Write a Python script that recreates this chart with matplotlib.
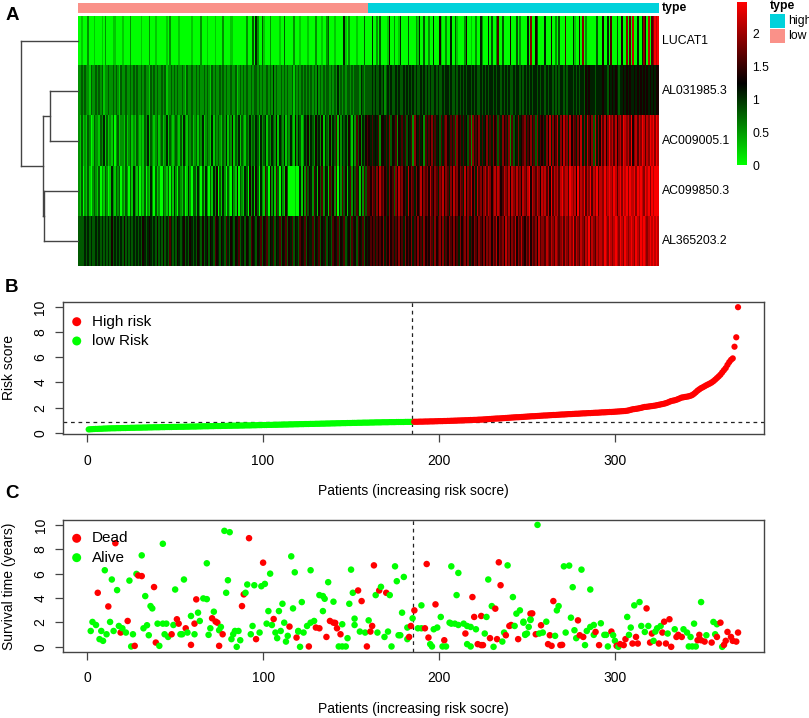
import numpy as np
import matplotlib
matplotlib.use('Agg')
import matplotlib.pyplot as plt
from matplotlib.colors import LinearSegmentedColormap, ListedColormap
from matplotlib.patches import Rectangle

plt.rcParams['font.family'] = ['Liberation Sans', 'DejaVu Sans']

# ---------------- data ----------------
n_patients = 370
n_low = 185
genes = ['LUCAT1', 'AL031985.3', 'AC009005.1', 'AC099850.3', 'AL365203.2']
type_labels = ['high', 'low']
type_colors = {'high': '#00D2DB', 'low': '#FA9189'}
colorbar_ticks = [0, 0.5, 1, 1.5, 2]
heat_max = 2.47
heat_step = 0.27  # expression level per digit in the rows below

row_lucat1 = ("0010002000100001020000110000100002000"
              "0001000020001000000102000001000000010"
              "0000200010000100002000011000000002000"
              "3042003100020000010030000020001000010"
              "0002000100230001000004102000010000300"
              "0040020300001500200140000300002140030"
              "0200400051002004003100002500100200420"
              "0040300260030000500030200004070053000"
              "0400050020300060000410050702000000300"
              "0500406000300500706080040047508067989")
row_al031985 = ("2232322132232323122322323213223223232"
                "3223232213232322323122323232232132232"
                "2323223232132322323232232231232323223"
                "2332323223232423223232322313232323232"
                "3232423232332323242323233232333243233"
                "3343433434234343343433434343434334343"
                "4343343433434434334343434344343433434"
                "3434434344343434334344343434343443434"
                "4343443434344343444343434435454443444"
                "4544354545434454545445454545454545455")
row_ac009005 = ("2131213201322132413121302312213123121"
                "3212132413212312312413212321314213231"
                "2313241232141323213241325132413213242"
                "3243142341324325143241324215243124352"
                "4325342514325243615243425314263524356"
                "5464546255464735462546463546275464526"
                "4657464536467546463756464536274657464"
                "5746475636475647263547456746574637465"
                "6475847568475867485764758474865738475"
                "8685797868578698786957868798687989798")
row_ac099850 = ("2130213102321302132014213230213203142"
                "1302130214203120032130314203213014203"
                "3142031420314250314203104215032143052"
                "4153042163052416304215300001004152635"
                "4264153625416352604263514625364152636"
                "6576475867564756375867564857647568576"
                "7586576476857647586757648576857486757"
                "8687578687568768587686758768958768758"
                "7868596878689788698785968796879687968"
                "8797898798689798979889798987989798999")
row_al365203 = ("3333434343343434343435343434353434343"
                "4343543454343534353436434354345343543"
                "4354353453543654354364354354634535436"
                "5435463546354635463546354635436546354"
                "4635463546354365463546345364536546354"
                "5656465657465756465756475657465756475"
                "6576475675746576575647567574657657657"
                "5767576857675867576857686576857675867"
                "7687687687678687687968768768796876878"
                "8798798789879879878987987989878989898")

# dendrogram merges: (child a, child b, height); leaves 0..4, new nodes 5..8
dend_merges = [(1, 2, 28.7), (3, 4, 34.7), (5, 6, 35.3), (0, 7, 57.3)]

risk_low = [0.26, 0.27, 0.28, 0.29, 0.30, 0.30, 0.31, 0.31, 0.32, 0.33,
            0.33, 0.34, 0.34, 0.35, 0.35, 0.35, 0.36, 0.36, 0.36, 0.37,
            0.37, 0.37, 0.38, 0.38, 0.39, 0.39, 0.39, 0.40, 0.40, 0.40,
            0.40, 0.41, 0.41, 0.41, 0.42, 0.42, 0.42, 0.43, 0.43, 0.43,
            0.43, 0.44, 0.44, 0.44, 0.45, 0.45, 0.45, 0.45, 0.46, 0.46,
            0.46, 0.47, 0.47, 0.47, 0.47, 0.48, 0.48, 0.48, 0.49, 0.49,
            0.49, 0.49, 0.50, 0.50, 0.50, 0.51, 0.51, 0.51, 0.51, 0.52,
            0.52, 0.52, 0.53, 0.53, 0.53, 0.53, 0.54, 0.54, 0.54, 0.55,
            0.55, 0.55, 0.56, 0.56, 0.56, 0.56, 0.57, 0.57, 0.57, 0.58,
            0.58, 0.58, 0.58, 0.59, 0.59, 0.59, 0.60, 0.60, 0.60, 0.61,
            0.61, 0.61, 0.62, 0.62, 0.62, 0.63, 0.63, 0.63, 0.64, 0.64,
            0.64, 0.65, 0.65, 0.65, 0.66, 0.66, 0.66, 0.67, 0.67, 0.67,
            0.68, 0.68, 0.68, 0.69, 0.69, 0.69, 0.70, 0.70, 0.70, 0.71,
            0.71, 0.71, 0.72, 0.72, 0.72, 0.73, 0.73, 0.73, 0.74, 0.74,
            0.74, 0.75, 0.75, 0.75, 0.76, 0.76, 0.76, 0.77, 0.77, 0.77,
            0.78, 0.78, 0.78, 0.79, 0.79, 0.79, 0.80, 0.80, 0.80, 0.80,
            0.81, 0.81, 0.81, 0.82, 0.82, 0.82, 0.82, 0.83, 0.83, 0.83,
            0.83, 0.84, 0.84, 0.84, 0.84, 0.85, 0.85, 0.85, 0.85, 0.85,
            0.86, 0.86, 0.86, 0.86, 0.86]
risk_high = [0.87, 0.87, 0.87, 0.88, 0.88, 0.88, 0.89, 0.89, 0.89, 0.90,
             0.90, 0.90, 0.91, 0.91, 0.92, 0.92, 0.92, 0.93, 0.93, 0.94,
             0.94, 0.95, 0.95, 0.96, 0.96, 0.97, 0.97, 0.98, 0.98, 0.99,
             0.99, 1.00, 1.01, 1.01, 1.02, 1.02, 1.03, 1.04, 1.04, 1.05,
             1.06, 1.07, 1.08, 1.09, 1.10, 1.11, 1.12, 1.13, 1.13, 1.14,
             1.15, 1.16, 1.17, 1.18, 1.19, 1.20, 1.21, 1.22, 1.23, 1.23,
             1.24, 1.25, 1.26, 1.27, 1.28, 1.29, 1.30, 1.31, 1.31, 1.32,
             1.33, 1.34, 1.35, 1.36, 1.37, 1.37, 1.38, 1.39, 1.40, 1.41,
             1.41, 1.42, 1.43, 1.44, 1.45, 1.45, 1.46, 1.47, 1.48, 1.48,
             1.49, 1.50, 1.51, 1.51, 1.52, 1.53, 1.54, 1.54, 1.55, 1.56,
             1.56, 1.57, 1.58, 1.59, 1.59, 1.60, 1.61, 1.62, 1.62, 1.63,
             1.64, 1.65, 1.65, 1.66, 1.67, 1.68, 1.69, 1.70, 1.71, 1.72,
             1.73, 1.75, 1.78, 1.82, 1.86, 1.88, 1.90, 1.92, 1.95, 1.98,
             2.02, 2.05, 2.06, 2.08, 2.10, 2.12, 2.14, 2.16, 2.19, 2.22,
             2.25, 2.28, 2.31, 2.35, 2.40, 2.46, 2.52, 2.55, 2.58, 2.62,
             2.68, 2.74, 2.80, 2.82, 2.85, 2.87, 2.90, 2.94, 3.00, 3.10,
             3.22, 3.35, 3.45, 3.55, 3.62, 3.70, 3.78, 3.85, 3.92, 4.00,
             4.10, 4.22, 4.35, 4.48, 4.62, 4.80, 4.98, 5.15, 5.40, 5.62,
             5.80, 5.92, 6.85, 7.60, 10.00]

dead_patient = [6, 12, 16, 19, 23, 27, 29, 31, 38, 39, 48, 51, 52, 56, 59, 61, 62,
                71, 73, 74, 75, 77, 88, 89, 92, 96, 100, 106, 115, 119,
                126, 130, 132, 136, 138, 140, 141, 142, 144, 154, 156, 159, 161,
                162, 163, 166, 170, 183, 184, 186, 192, 193, 194, 198, 203, 215,
                219, 220, 222, 224, 224, 225, 229, 232, 233, 234, 235, 238, 240,
                241, 245, 252, 253, 255, 258, 262, 263, 264, 265, 269, 270, 279,
                280, 282, 289, 291, 298, 301, 303, 305, 306, 310, 312, 313, 318,
                320, 321, 325, 327, 328, 329, 331, 332, 335, 336, 338, 347, 348,
                349, 351, 355, 358, 360, 362, 363, 364, 366, 367, 369, 370]
dead_time = [4.43, 3.31, 8.5, 1.17, 2.12, 0.08, 5.85, 5.8, 4.9, 0.35, 1.03, 2.26, 1.9,
             1.52, 0.16, 1.9, 3.89, 2.34, 2.07, 1.98, 0.08, 1.03, 3.34, 4.3, 8.91,
             0.63, 6.9, 2.28, 1.66, 0.76,
             0.03, 1.58, 1.52, 0.81, 2.12, 1.98, 1.96, 1.52, 1.03, 4.62, 3.75, 0.03,
             1.25, 1.71, 6.68, 4.62, 4.43, 0.81, 1.71, 2.99, 1.52, 6.79, 0.76, 3.48,
             0.54, 1.09, 4.08, 2.45, 0.22, 0.14, 2.53, 0.14, 0.71, 3.13, 0.63, 6.93,
             5.05, 0.95, 1.71, 1.79, 0.63, 2.72, 2.74, 1.03, 1.77, 0.22, 0.95, 0.08,
             3.75, 0.14, 0.16, 2.17, 0.95, 0.81, 1.22, 0.14, 1.25, 0.08, 0.22, 0.14,
             0.63, 0.27, 0.81, 0.27, 3.15, 0.35, 1.09, 0.27, 1.17, 2.06, 0.27, 2.26,
             0.0, 0.81, 0.98, 0.81, 0.54, 0.98, 0.54, 0.43, 0.35, 0.81, 1.98, 0.16,
             0.49, 1.22, 0.81, 0.49, 0.43, 1.17]
alive_patient = [10, 14, 17, 24, 28, 31, 33, 36, 37, 43, 50, 55, 66, 68, 68, 78, 81,
                 79, 80, 90, 91, 95, 99, 101, 104, 116, 118, 122, 117, 111, 109, 103,
                 102, 105, 112, 110, 107, 108, 113, 114, 120, 121, 98, 94, 93, 84, 86,
                 83, 82, 87, 85, 76, 75, 72, 70, 69, 64, 63, 59, 61, 57, 54, 53, 49,
                 45, 43, 40, 44, 46, 41, 35, 34, 32, 25, 26, 22, 20, 18, 15, 13, 11,
                 9, 7, 8, 5, 3, 2,
                 127, 120, 123, 125, 127, 129, 132, 134, 135, 134, 137, 140, 145, 148,
                 143, 145, 147, 150, 149, 151, 152, 152, 155, 158, 160, 164, 167, 172,
                 165, 169, 171, 173, 175, 176, 180, 179, 177, 178, 182, 182, 185, 188,
                 190, 190, 195, 196, 197, 199, 201, 202, 204, 206, 207, 207, 211, 210,
                 209, 211, 214, 216, 218, 216, 218, 221, 227, 226, 228, 231, 230, 236,
                 237, 239, 242, 243, 244, 246, 248, 249, 251, 252,
                 256, 271, 274, 281, 276, 286, 268, 267, 248, 252, 261, 250, 249, 257,
                 259, 266, 272, 275, 277, 278, 283, 284, 286, 288, 288, 292, 294, 295,
                 296, 299, 300, 302, 307, 309, 308, 311, 314, 315, 317, 319, 322, 323,
                 324, 326, 330, 334, 339, 341, 343, 342, 344, 346, 345, 349, 352, 356,
                 358, 357, 361]
alive_time = [6.28, 5.52, 4.65, 5.43, 5.98, 7.5, 4.16, 3.34, 3.15, 8.45, 4.7, 5.52,
              3.97, 3.91, 6.85, 9.51, 9.4, 4.43, 5.46, 4.43, 5.11, 5.05, 4.97, 5.16,
              6.0, 7.42, 6.11, 3.67, 3.15, 3.53, 2.93, 2.93, 1.9, 1.79, 1.98, 1.3,
              1.17, 0.71, 0.43, 0.9, 1.25, 0.0, 1.17, 1.71, 1.03, 1.3, 1.3, 1.03,
              0.63, 0.54, 0.0, 1.63, 1.36, 2.88, 1.52, 0.98, 2.12, 2.8, 2.53, 1.03,
              1.17, 1.03, 1.03, 1.79, 1.9, 1.9, 1.9, 1.03, 0.81, 0.08, 0.95, 1.77,
              1.52, 0.03, 1.03, 1.17, 1.52, 1.71, 1.3, 2.04, 1.03, 0.49, 0.63, 1.3,
              1.79, 2.04, 1.3,
              6.28, 1.3, 1.17, 1.71, 1.98, 2.12, 4.24, 4.16, 3.94, 2.93, 5.3, 3.7,
              1.85, 0.71, 0.03, 0.03, 0.03, 6.33, 3.53, 4.43, 2.31, 1.79, 1.25, 1.17,
              2.17, 4.24, 4.92, 4.24, 1.17, 0.81, 1.25, 0.03, 6.6, 5.38, 5.73, 2.8,
              0.95, 0.95, 0.63, 1.58, 2.34, 1.52, 1.52, 3.4, 0.22, 0.03, 1.44, 1.58,
              2.45, 0.03, 0.03, 1.98, 1.9, 6.6, 6.06, 4.24, 1.9, 1.79, 1.9, 1.71,
              1.63, 0.22, 0.03, 1.44, 2.45, 1.09, 5.52, 0.0, 3.34, 0.43, 1.17, 6.68,
              4.08, 1.71, 2.72, 2.99, 1.98, 0.98, 1.63, 2.26,
              10.0, 6.6, 6.66, 6.33, 4.89, 4.7, 3.34, 2.99, 2.06, 2.2, 2.06, 1.09,
              1.03, 1.09, 1.17, 0.9, 1.17, 2.39, 1.36, 0.71, 0.14, 1.3, 1.63, 1.79,
              0.98, 1.93, 0.98, 0.98, 0.03, 0.95, 0.49, 0.0, 2.45, 1.58, 0.98, 3.4,
              3.67, 1.71, 1.22, 1.71, 0.49, 1.25, 1.52, 1.71, 1.09, 1.44, 1.44, 1.17,
              0.81, 0.03, 0.03, 0.03, 1.9, 3.67, 0.95, 2.04, 1.85, 1.03, 0.0]

# ---------------- figure ----------------
W, H = 809, 718
fig = plt.figure(figsize=(W / 100, H / 100), dpi=100)


def ax_px(x0, y0, x1, y1):
    return fig.add_axes([x0 / W, 1 - y1 / H, (x1 - x0) / W, (y1 - y0) / H])


RED = '#FF0000'
GREEN = '#00FF00'
FS = 10

# ---- Panel A: heatmap ----
rows = [row_lucat1, row_al031985, row_ac009005, row_ac099850, row_al365203]
rows = [r[:n_patients].ljust(n_patients, r[-1]) for r in rows]
mat = np.array([[int(c) * heat_step for c in r] for r in rows])
cmap = LinearSegmentedColormap.from_list('gbr', [GREEN, '#000000', RED], N=256)

axh = ax_px(78, 16, 659, 266)
axh.imshow(mat, aspect='auto', cmap=cmap, vmin=0, vmax=heat_max,
           interpolation='nearest')
axh.set_axis_off()
for i, g in enumerate(genes):
    axh.text(1.005, 1 - (i + 0.5) / len(genes), g, transform=axh.transAxes,
             va='center', ha='left', fontsize=8.8)

# annotation bar
types = ['low'] * n_low + ['high'] * (n_patients - n_low)
type_idx = np.array([[type_labels.index(t) for t in types]])
axa = ax_px(78, 2.7, 659, 13.3)
axa.imshow(type_idx, aspect='auto',
           cmap=ListedColormap([type_colors[t] for t in type_labels]),
           vmin=0, vmax=1, interpolation='nearest')
axa.set_axis_off()
axa.text(1.005, 0.5, 'type', transform=axa.transAxes, va='center', ha='left',
         fontsize=8.8, fontweight='bold')

# dendrogram
axd = ax_px(10, 16, 78.5, 266)
axd.set_xlim(68.5, 0)
axd.set_ylim(len(genes), 0)
axd.set_axis_off()
pos = {i: i + 0.5 for i in range(len(genes))}
hgt = {i: 0.0 for i in range(len(genes))}
node = len(genes)
for a, b, h in dend_merges:
    ya, yb = pos[a], pos[b]
    axd.plot([hgt[a], h], [ya, ya], color='#444444', lw=1)
    axd.plot([hgt[b], h], [yb, yb], color='#444444', lw=1)
    axd.plot([h, h], [ya, yb], color='#444444', lw=1)
    pos[node] = (ya + yb) / 2
    hgt[node] = h
    node += 1

# colorbar
axc = ax_px(737, 2, 747, 165)
grad = np.linspace(0, heat_max, 256)[:, None]
axc.imshow(grad, aspect='auto', cmap=cmap, vmin=0, vmax=heat_max,
           origin='lower', extent=[0, 1, 0, heat_max])
axc.set_xticks([])
axc.yaxis.tick_right()
axc.set_yticks(colorbar_ticks)
axc.set_yticklabels([('%g' % t) for t in colorbar_ticks], fontsize=8.8)
axc.tick_params(axis='y', length=0, pad=4)
for s in axc.spines.values():
    s.set_visible(False)

# type legend
axl = ax_px(760, 0, 809, 60)
axl.set_xlim(760, 809)
axl.set_ylim(60, 0)
axl.set_axis_off()
axl.text(770, 6, 'type', fontsize=8.8, fontweight='bold', va='center', ha='left')
for k, t in enumerate(type_labels):
    axl.add_patch(Rectangle((770, 13.5 + k * 15), 15, 14.5,
                            facecolor=type_colors[t], edgecolor='none'))
    axl.text(788, 21 + k * 15, t, fontsize=8.8, va='center', ha='left',
             clip_on=False)

# panel letters
for letter, y in [('A', 15), ('B', 288), ('C', 493)]:
    fig.text(12 / W, 1 - y / H, letter, fontsize=13.5, fontweight='bold',
             ha='center', va='center')

# ---- common axis styling ----
x = np.arange(1, n_patients + 1)
xlim = (1 - 0.04 * (n_patients - 1), n_patients + 0.04 * (n_patients - 1))


def style(ax, ymax):
    ax.set_xlim(*xlim)
    ax.set_xticks([0, 100, 200, 300])
    ax.set_yticks([0, 2, 4, 6, 8, 10])
    ax.tick_params(axis='x', length=6, width=0.9, pad=8, labelsize=FS,
                   color='#444444')
    ax.tick_params(axis='y', length=6, width=0.9, pad=5, labelsize=FS,
                   color='#444444')
    for lab in ax.get_yticklabels():
        lab.set_rotation(90)
        lab.set_va('center')
    for s in ax.spines.values():
        s.set_color('#444444')
        s.set_linewidth(1)


# ---- Panel B ----
risk = np.array(risk_low + risk_high)
cutoff = risk[n_low - 1]
axb = ax_px(62.7, 302.3, 764, 434.3)
cols = np.where(x <= n_low, GREEN, RED)
axb.scatter(x, risk, c=cols, s=20, linewidths=0, zorder=3)
rr = risk.max() - risk.min()
axb.set_ylim(risk.min() - 0.04 * rr, risk.max() + 0.04 * rr)
axb.axvline(n_low, color='#222222', ls=(0, (3, 3)), lw=0.9, zorder=2)
axb.axhline(cutoff, color='#222222', ls=(0, (3, 3)), lw=0.9, zorder=2)
style(axb, 10)
axb.scatter([0.02, 0.02], [0.853, 0.707], c=[RED, GREEN], s=42, linewidths=0,
            transform=axb.transAxes, clip_on=False)
axb.text(0.0418, 0.853, 'High risk', transform=axb.transAxes, fontsize=11,
         va='center', ha='left')
axb.text(0.0418, 0.707, 'low Risk', transform=axb.transAxes, fontsize=11,
         va='center', ha='left')
fig.text(9 / W, 1 - 368 / H, 'Risk score', rotation=90, fontsize=FS,
         ha='center', va='center')
fig.text(413 / W, 1 - 491 / H, 'Patients (increasing risk socre)', fontsize=FS,
         ha='center', va='center')

# ---- Panel C ----
sx = np.array(dead_patient + alive_patient)
st = np.array(dead_time + alive_time)
sd = np.array([1] * len(dead_patient) + [0] * len(alive_patient))
order = np.argsort(sx, kind='stable')
axs = ax_px(63, 520, 764, 651.7)
axs.scatter(sx[order], st[order], c=np.where(sd[order] == 1, RED, GREEN), s=22,
            linewidths=0, zorder=3)
tr = st.max() - st.min()
axs.set_ylim(st.min() - 0.04 * tr, st.max() + 0.04 * tr)
axs.axvline(n_low, color='#222222', ls=(0, (3, 3)), lw=0.9, zorder=2)
style(axs, 10)
axs.scatter([0.0195, 0.0195], [0.861, 0.714], c=[RED, GREEN], s=42, linewidths=0,
            transform=axs.transAxes, clip_on=False)
axs.text(0.041, 0.861, 'Dead', transform=axs.transAxes, fontsize=11,
         va='center', ha='left')
axs.text(0.041, 0.714, 'Alive', transform=axs.transAxes, fontsize=11,
         va='center', ha='left')
fig.text(9 / W, 1 - 586 / H, 'Survival time (years)', rotation=90, fontsize=FS,
         ha='center', va='center')
fig.text(413 / W, 1 - 709 / H, 'Patients (increasing risk socre)', fontsize=FS,
         ha='center', va='center')

fig.savefig('out.png', dpi=100)
